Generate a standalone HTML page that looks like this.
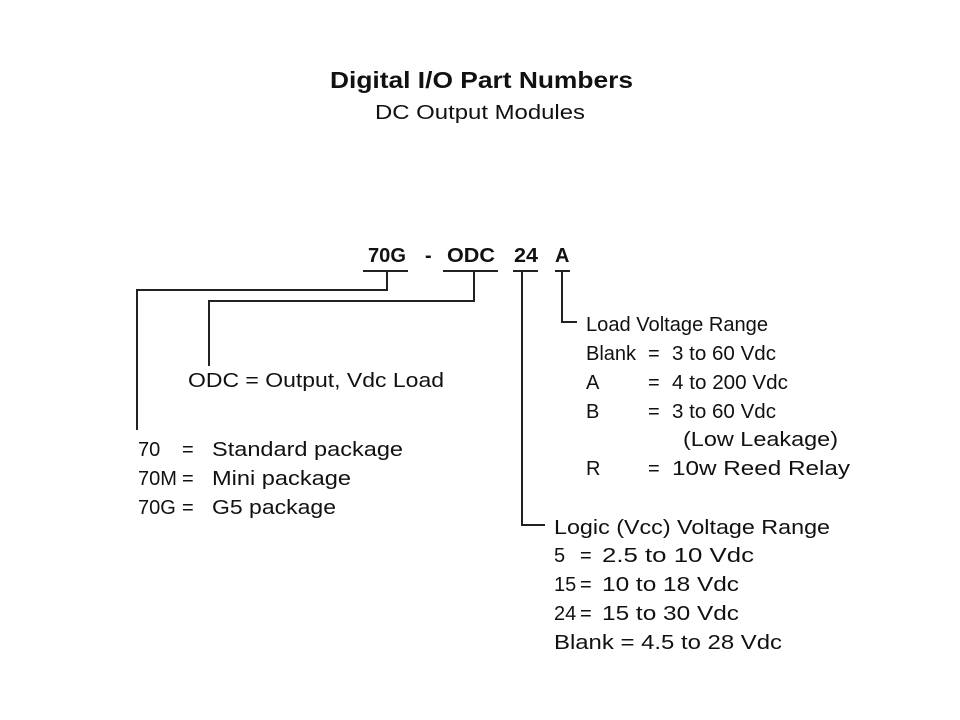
<!DOCTYPE html>
<html><head><meta charset="utf-8"><style>
html,body{margin:0;padding:0;background:#fff;}
svg{display:block}
text{font-family:"Liberation Sans","DejaVu Sans",sans-serif;fill:#111;font-size:20px}
</style></head><body>
<svg width="960" height="720" viewBox="0 0 960 720" xmlns="http://www.w3.org/2000/svg">
<text x="330" y="88" textLength="303" lengthAdjust="spacingAndGlyphs" style="font-size:23px;font-weight:bold">Digital I/O Part Numbers</text>
<text x="375" y="119" textLength="210" lengthAdjust="spacingAndGlyphs" style="font-size:20px">DC Output Modules</text>

<g style="font-weight:bold">
<text x="368" y="262" textLength="38" lengthAdjust="spacingAndGlyphs">70G</text>
<text x="425" y="262">-</text>
<text x="447" y="262" textLength="48" lengthAdjust="spacingAndGlyphs">ODC</text>
<text x="514" y="262" textLength="24" lengthAdjust="spacingAndGlyphs">24</text>
<text x="555" y="262">A</text>
</g>

<g stroke="#222" stroke-width="2" fill="none">
<line x1="363" y1="271" x2="408" y2="271"/>
<line x1="443" y1="271" x2="498" y2="271"/>
<line x1="513" y1="271" x2="538" y2="271"/>
<line x1="555" y1="271" x2="570" y2="271"/>
<polyline points="387,271 387,290 137,290 137,430"/>
<polyline points="474,271 474,301 209,301 209,366"/>
<polyline points="522,271 522,525 545,525"/>
<polyline points="562,271 562,322 577,322"/>
</g>

<text x="188" y="387" textLength="256" lengthAdjust="spacingAndGlyphs">ODC = Output, Vdc Load</text>

<text x="138" y="456">70</text><text x="182" y="456">=</text><text x="212" y="456" textLength="191" lengthAdjust="spacingAndGlyphs">Standard package</text>
<text x="138" y="485">70M</text><text x="182" y="485">=</text><text x="212" y="485" textLength="139" lengthAdjust="spacingAndGlyphs">Mini package</text>
<text x="138" y="514">70G</text><text x="182" y="514">=</text><text x="212" y="514" textLength="124" lengthAdjust="spacingAndGlyphs">G5 package</text>

<text x="586" y="331" textLength="182" lengthAdjust="spacingAndGlyphs">Load Voltage Range</text>
<text x="586" y="360">Blank</text><text x="648" y="360">=</text><text x="672" y="360" textLength="104" lengthAdjust="spacingAndGlyphs">3 to 60 Vdc</text>
<text x="586" y="389">A</text><text x="648" y="389">=</text><text x="672" y="389" textLength="116" lengthAdjust="spacingAndGlyphs">4 to 200 Vdc</text>
<text x="586" y="418">B</text><text x="648" y="418">=</text><text x="672" y="418" textLength="104" lengthAdjust="spacingAndGlyphs">3 to 60 Vdc</text>
<text x="683" y="446" textLength="155" lengthAdjust="spacingAndGlyphs">(Low Leakage)</text>
<text x="586" y="475">R</text><text x="648" y="475">=</text><text x="672" y="475" textLength="178" lengthAdjust="spacingAndGlyphs">10w Reed Relay</text>

<text x="554" y="534" textLength="276" lengthAdjust="spacingAndGlyphs">Logic (Vcc) Voltage Range</text>
<text x="554" y="562">5</text><text x="580" y="562">=</text><text x="602" y="562" textLength="152" lengthAdjust="spacingAndGlyphs">2.5 to 10 Vdc</text>
<text x="554" y="591">15</text><text x="580" y="591">=</text><text x="602" y="591" textLength="137" lengthAdjust="spacingAndGlyphs">10 to 18 Vdc</text>
<text x="554" y="620">24</text><text x="580" y="620">=</text><text x="602" y="620" textLength="137" lengthAdjust="spacingAndGlyphs">15 to 30 Vdc</text>
<text x="554" y="649" textLength="228" lengthAdjust="spacingAndGlyphs">Blank = 4.5 to 28 Vdc</text>
</svg>
</body></html>
